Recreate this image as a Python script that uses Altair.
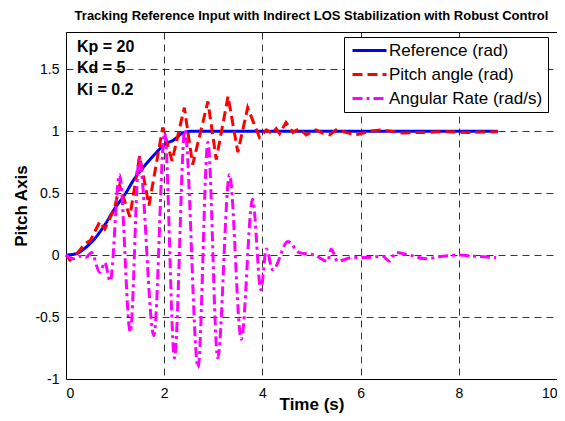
import altair as alt
import pandas as pd

FONT = "Liberation Sans"

SERIES = ["Reference (rad)", "Pitch angle (rad)", "Angular Rate (rad/s)"]
COLORS = ["#0000ff", "#ff0000", "#ff00ff"]
DASHES = [[1, 0], [10, 5], [10, 4, 3, 4]]

# Reference (rad)
t_ref = [0, 0.2, 0.4, 0.6, 0.8, 1.0, 1.2, 1.4, 1.6, 1.8, 2.0, 2.2, 2.4, 2.6, 8.8]
y_ref = [0, 0.01, 0.06, 0.14, 0.25, 0.38, 0.49, 0.62, 0.72, 0.81, 0.89, 0.93, 0.99, 1.0, 1.0]

# Pitch angle (rad)
t_pitch = [0, 0.08, 0.2, 0.38, 0.5, 0.69, 0.79, 0.99, 1.09, 1.30, 1.50, 1.69, 1.97,
           2.16, 2.41, 2.58, 2.89, 3.06, 3.30, 3.50, 3.70, 3.94, 4.08, 4.20, 4.28,
           4.35, 4.48, 4.62, 4.75, 4.89, 5.09, 5.25, 5.37, 5.50, 5.70, 5.91, 6.20,
           6.45, 6.86, 7.26, 7.70, 8.20, 8.80]
y_pitch = [0, -0.04, 0.0, 0.09, 0.12, 0.27, 0.21, 0.38, 0.56, 0.31, 0.80, 0.40, 1.03,
           0.76, 1.19, 0.73, 1.24, 0.77, 1.28, 0.83, 1.19, 0.95, 1.01, 0.98, 1.02,
           0.98, 1.07, 0.99, 1.02, 0.97, 1.01, 0.98, 0.97, 1.01, 0.99, 0.97, 1.0,
           1.01, 0.985, 0.99, 0.995, 0.99, 0.995]

# Angular Rate (rad/s)
t_rate = [0, 0.15, 0.28, 0.40, 0.52, 0.69, 0.79, 0.90, 1.09, 1.31, 1.49, 1.79, 2.01,
          2.21, 2.42, 2.69, 2.89, 3.09, 3.33, 3.57, 3.80, 3.97, 4.08, 4.21, 4.52,
          4.75, 5.06, 5.33, 5.40, 5.53, 5.84, 6.11, 6.45, 6.59, 6.72, 6.99, 7.33,
          7.67, 8.00, 8.35, 8.76]
y_rate = [0, -0.03, -0.01, -0.02, 0.02, -0.14, -0.06, -0.21, 0.65, -0.62, 0.78, -0.65, 0.99,
          -0.83, 1.01, -0.91, 0.91, -0.83, 0.65, -0.68, 0.45, -0.28, 0.05, -0.12, 0.11,
          0.02, 0.0, -0.05, 0.05, -0.05, -0.02, -0.02, -0.01, -0.05, 0.02, 0.0, -0.03,
          -0.01, 0.0, -0.01, -0.02]

X_TICKS = [0, 2, 4, 6, 8, 10]
Y_TICKS = [-1, -0.5, 0, 0.5, 1, 1.5]
GAINS = ["Kp = 20", "Kd = 5", "Ki = 0.2"]
TITLE = "Tracking Reference Input with Indirect LOS Stabilization with Robust Control"

rows = []
for name, ts, ys in [(SERIES[0], t_ref, y_ref), (SERIES[1], t_pitch, y_pitch), (SERIES[2], t_rate, y_rate)]:
    for t, v in zip(ts, ys):
        rows.append({"t": t, "v": v, "series": name})
df = pd.DataFrame(rows)

x_enc = alt.X("t:Q", scale=alt.Scale(domain=[0, 10], nice=False),
              axis=alt.Axis(values=X_TICKS, title="Time (s)", titleY=30,
                            titleBaseline="alphabetic", labelPadding=7,
                            labelExpr="'' + datum.value"))
y_enc = alt.Y("v:Q", scale=alt.Scale(domain=[-1, 1.8], nice=False, zero=False),
              axis=alt.Axis(values=Y_TICKS, title="Pitch Axis", titleX=-40,
                            titleBaseline="alphabetic", labelPadding=7,
                            labelExpr="'' + datum.value"))
leg = alt.Legend(title=None, orient="none", legendX=278, legendY=5)
color_enc = alt.Color("series:N", scale=alt.Scale(domain=SERIES, range=COLORS), legend=leg)
dash_enc = alt.StrokeDash("series:N", scale=alt.Scale(domain=SERIES, range=DASHES), legend=leg)


def line_layer(name, interp):
    return alt.Chart(df).transform_filter(alt.datum.series == name).mark_line(
        strokeWidth=3, interpolate=interp
    ).encode(x=x_enc, y=y_enc, color=color_enc, strokeDash=dash_enc)


ref = line_layer(SERIES[0], "monotone")
pitch = line_layer(SERIES[1], "linear")
rate = line_layer(SERIES[2], "monotone")

ann = alt.Chart(pd.DataFrame({"txt": ["\n".join(GAINS)]})).mark_text(
    align="left", baseline="alphabetic", lineBreak="\n", lineHeight=21.7,
    fontSize=16, fontWeight="bold", font=FONT, color="black"
).encode(x=alt.value(11), y=alt.value(19.7), text="txt:N")

chart = alt.layer(ref, pitch, rate, ann).properties(
    width=491, height=347,
    title=alt.TitleParams(text=TITLE, fontSize=13, fontWeight="bold", font=FONT,
                          anchor="middle", offset=9, color="black"),
    padding={"left": 58, "top": 24, "right": 0, "bottom": 34},
    autosize=alt.AutoSizeParams(type="none"),
).configure_view(stroke="black", strokeWidth=1).configure_axis(
    labelFont=FONT, labelFontSize=14, labelColor="black",
    titleFont=FONT, titleFontSize=17, titleFontWeight="bold", titleColor="black",
    ticks=False, domain=False, grid=True, gridColor="black", gridOpacity=1,
    gridDash=[7, 5], gridWidth=0.8,
).configure_legend(
    strokeColor="black", fillColor="white", padding=5, rowPadding=6,
    labelFont=FONT, labelFontSize=17, labelColor="black", labelOffset=23,
    symbolType="M-1,0H5.8", symbolSize=100, symbolStrokeWidth=3,
)

chart.save("out.html", embed_options={"renderer": "svg", "actions": False})
